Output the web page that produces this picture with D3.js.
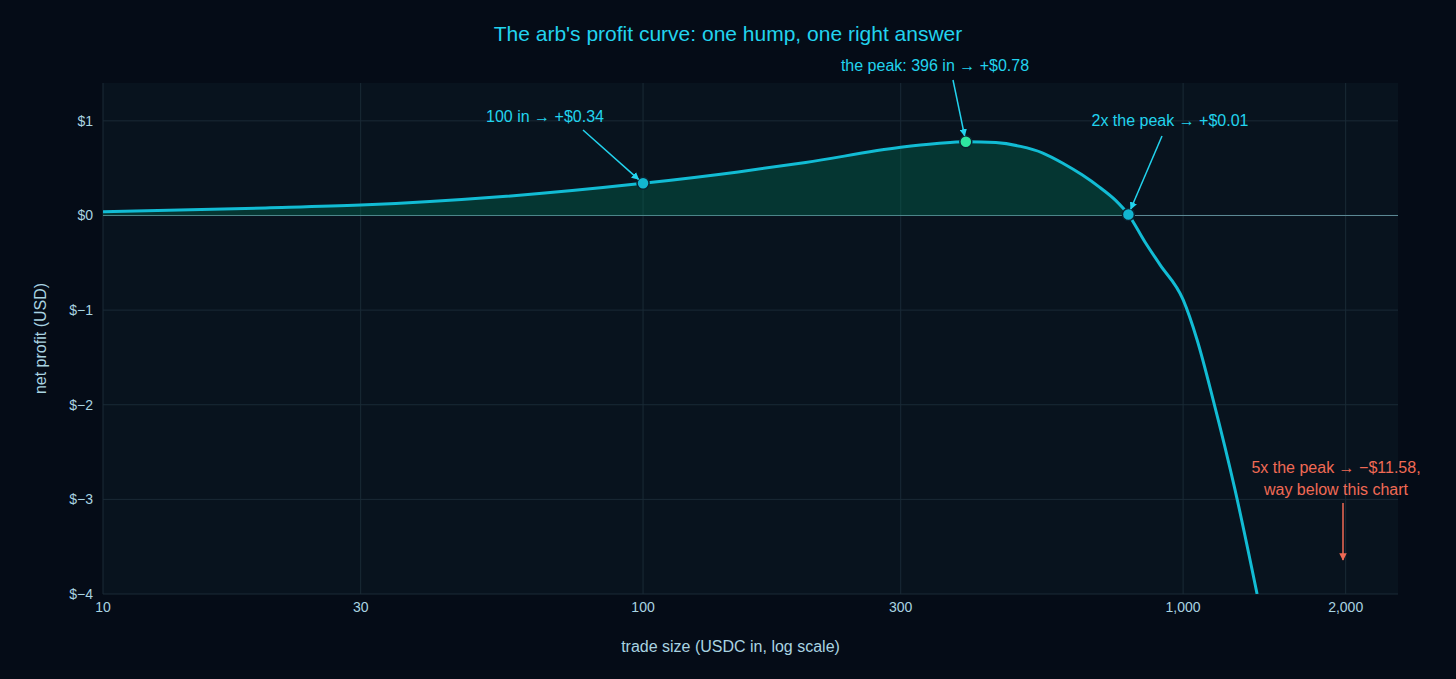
<!DOCTYPE html>
<html>
<head>
<script src="https://cdn.jsdelivr.net/npm/d3@7"></script>
<style>body{margin:0;background:#050c17;}</style>
</head>
<body>
<svg id="mainsvg" width="1456" height="679"></svg>
<script>
const tradeSize = [10, 20, 30, 55, 100, 150, 200, 300, 350, 396, 450, 500, 550, 600, 650, 700, 750, 792, 850, 906, 1000, 1061, 1137, 1248, 1371];
const profit = [0.04, 0.08, 0.11, 0.2, 0.34, 0.46, 0.56, 0.72, 0.76, 0.78, 0.77, 0.73, 0.66, 0.55, 0.43, 0.3, 0.16, 0.01, -0.28, -0.52, -0.89, -1.31, -1.95, -2.9, -4];
const xTicks = [10, 30, 100, 300, 1000, 2000];
const yTicks = [1, 0, -1, -2, -3, -4];
const markers = [{x: 100, y: 0.34, c: '#12b5d0'}, {x: 396, y: 0.78, c: '#2ee6a0'}, {x: 792, y: 0.01, c: '#12b5d0'}];

const svg = d3.select('#mainsvg');
const margin = {top: 83, right: 58, bottom: 85, left: 103};
const W = 1456, H = 679;
const iw = W - margin.left - margin.right, ih = H - margin.top - margin.bottom;
const font = 'Helvetica, Arial, sans-serif';
svg.append('rect').attr('width', W).attr('height', H).attr('fill', '#050c17');
const g = svg.append('g').attr('transform', `translate(${margin.left},${margin.top})`);
g.append('rect').attr('width', iw).attr('height', ih).attr('fill', '#08131e');

const x = d3.scaleLog().domain([10, 2500]).range([0, iw]);
const y = d3.scaleLinear().domain([-4, 1.4]).range([ih, 0]);

g.selectAll('.gx').data(xTicks).join('line').attr('x1', d => x(d)).attr('x2', d => x(d))
  .attr('y1', 0).attr('y2', ih).attr('stroke', '#1a2a36').attr('stroke-width', 1);
g.selectAll('.gy').data(yTicks).join('line').attr('x1', 0).attr('x2', iw)
  .attr('y1', d => y(d)).attr('y2', d => y(d)).attr('stroke', d => d === 0 ? '#5f8c99' : '#1a2a36').attr('stroke-width', 1);

const pts = tradeSize.map((t, i) => ({x: t, y: profit[i]}));
const defs = svg.append('defs');
defs.append('clipPath').attr('id', 'clip').append('rect').attr('width', iw).attr('height', ih);
const pos = pts.filter(d => d.y >= 0);
g.append('path').datum(pos).attr('fill', 'rgba(0,120,90,0.35)')
  .attr('d', d3.area().x(d => x(d.x)).y0(y(0)).y1(d => y(d.y)).curve(d3.curveMonotoneX));
g.append('path').datum(pts).attr('clip-path', 'url(#clip)').attr('fill', 'none').attr('stroke', '#12bcd4').attr('stroke-width', 3)
  .attr('d', d3.line().x(d => x(d.x)).y(d => y(d.y)).curve(d3.curveMonotoneX));

g.selectAll('.m').data(markers).join('circle').attr('cx', d => x(d.x)).attr('cy', d => y(d.y)).attr('r', 6)
  .attr('fill', d => d.c).attr('stroke', '#0a2230').attr('stroke-width', 1.5);

const tickC = '#a9d4e2';
g.selectAll('.xt').data(xTicks).join('text').attr('x', d => x(d)).attr('y', ih + 18).attr('text-anchor', 'middle')
  .attr('fill', tickC).attr('font-family', font).attr('font-size', 14).text(d3.format(','));
g.selectAll('.yt').data(yTicks).join('text').attr('x', -10).attr('y', d => y(d) + 5).attr('text-anchor', 'end')
  .attr('fill', tickC).attr('font-family', font).attr('font-size', 14)
  .text(d => d < 0 ? '$\u2212' + (-d) : '$' + d);

svg.append('text').attr('x', margin.left + iw / 2 - 20).attr('y', 652).attr('text-anchor', 'middle').attr('fill', tickC)
  .attr('font-family', font).attr('font-size', 16).text('trade size (USDC in, log scale)');
svg.append('text').attr('transform', `translate(46,${margin.top + ih / 2}) rotate(-90)`).attr('text-anchor', 'middle').attr('fill', tickC)
  .attr('font-family', font).attr('font-size', 16).text('net profit (USD)');
svg.append('text').attr('x', 728).attr('y', 41).attr('text-anchor', 'middle').attr('fill', '#22d3ee')
  .attr('font-family', font).attr('font-size', 21).text("The arb's profit curve: one hump, one right answer");

function marker(id, c) {
  defs.append('marker').attr('id', id).attr('viewBox', '0 0 10 10').attr('refX', 9).attr('refY', 5)
    .attr('markerWidth', 5).attr('markerHeight', 5).attr('orient', 'auto')
    .append('path').attr('d', 'M0,0L10,5L0,10z').attr('fill', c);
}
marker('ac', '#22d3ee'); marker('ar', '#f06a55');
const ann = [
  {t: '100 in \u2192 +$0.34', tx: 545, ty: 122, ax: 583, ay: 130, px: 100, py: 0.34},
  {t: 'the peak: 396 in \u2192 +$0.78', tx: 935, ty: 71, ax: 953, ay: 80, px: 396, py: 0.78},
  {t: '2x the peak \u2192 +$0.01', tx: 1170, ty: 126, ax: 1162, ay: 136, px: 792, py: 0.01}
];
ann.forEach(a => {
  svg.append('text').attr('x', a.tx).attr('y', a.ty).attr('text-anchor', 'middle').attr('fill', '#22d3ee')
    .attr('font-family', font).attr('font-size', 16).text(a.t);
  const ex = margin.left + x(a.px), ey = margin.top + y(a.py);
  const dx = ex - a.ax, dy = ey - a.ay, L = Math.hypot(dx, dy);
  svg.append('line').attr('x1', a.ax).attr('y1', a.ay).attr('x2', ex - dx / L * 6).attr('y2', ey - dy / L * 6)
    .attr('stroke', '#22d3ee').attr('stroke-width', 1.5).attr('marker-end', 'url(#ac)');
});
['5x the peak \u2192 \u2212$11.58,', 'way below this chart'].forEach((t, i) =>
  svg.append('text').attr('x', 1336).attr('y', 473 + i * 22).attr('text-anchor', 'middle').attr('fill', '#f06a55')
    .attr('font-family', font).attr('font-size', 16).text(t));
svg.append('line').attr('x1', 1343).attr('y1', 503).attr('x2', 1343).attr('y2', 560)
  .attr('stroke', '#f06a55').attr('stroke-width', 1.5).attr('marker-end', 'url(#ar)');
</script>
</body>
</html>
